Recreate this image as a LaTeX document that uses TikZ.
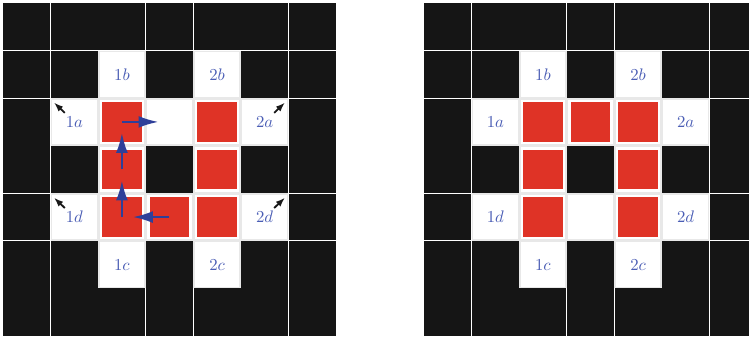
\documentclass[tikz,border=0pt]{standalone}
\usetikzlibrary{arrows.meta}
\definecolor{blk}{HTML}{151515}
\definecolor{cellgray}{HTML}{E8E8E8}
\definecolor{cellred}{HTML}{DF3326}
\definecolor{lblblue}{HTML}{4A5DB5}
\definecolor{arrblue}{HTML}{2E3F99}
\begin{document}
\begin{tikzpicture}[x=1cm,y=-1cm,
  wcell/.style={rectangle, fill=white, draw=cellgray, line width=0.9pt, minimum size=1cm-0.9pt, inner sep=0pt},
  rcell/.style={rectangle, fill=cellred, minimum size=0.83cm, inner sep=0pt},
  lbl/.style={text=lblblue, font=\normalsize},
  barrow/.style={draw=arrblue, line width=1.4pt, -{Latex[length=0.42cm,width=0.25cm]}, shorten >=0.23cm},
  karrow/.style={draw=black!90, line width=1.1pt, -{Latex[length=0.2cm,width=0.14cm]}},
  gline/.style={white, line width=0.7pt}]
\useasboundingbox (-0.063,-0.063) rectangle (15.682,7.042);
\fill[white] (-0.063,-0.063) rectangle (15.682,7.042);
\clip (-0.063,-0.063) rectangle (15.682,7.042);
\foreach \gr/\ox in {L/0, R/8.85} {
  \begin{scope}[xshift=\ox cm]
    \fill[blk] (0,0) rectangle (7,7);
    \foreach \v in {1,3,4,6} {\draw[gline] (\v,0) -- (\v,7);}
    \foreach \h in {1,2,4,5} {\draw[gline] (0,\h) -- (7,\h);}
    % labelled white cells
    \node[wcell, lbl] (\gr21) at (2.5,1.5) {$1b$};
    \node[wcell, lbl] (\gr41) at (4.5,1.5) {$2b$};
    \node[wcell, lbl] (\gr12) at (1.5,2.5) {$1a$};
    \node[wcell, lbl] (\gr52) at (5.5,2.5) {$2a$};
    \node[wcell, lbl] (\gr14) at (1.5,4.5) {$1d$};
    \node[wcell, lbl] (\gr54) at (5.5,4.5) {$2d$};
    \node[wcell, lbl] (\gr25) at (2.5,5.5) {$1c$};
    \node[wcell, lbl] (\gr45) at (4.5,5.5) {$2c$};
    % inner ring cells
    \foreach \c/\r in {2/2,3/2,4/2,2/3,4/3,2/4,3/4,4/4} {
      \node[wcell] (\gr\c\r) at (\c+0.5,\r+0.5) {};
    }
  \end{scope}
}
% red squares, left grid
\foreach \c/\r in {2/2,2/3,2/4,3/4,4/2,4/3,4/4} {
  \node[rcell] (Lred\c\r) at (L\c\r.center) {};
}
% red squares, right grid
\foreach \c/\r in {2/2,3/2,4/2,2/3,4/3,2/4,4/4} {
  \node[rcell] (Rred\c\r) at (R\c\r.center) {};
}
% blue path arrows
\draw[barrow] (L34.center) -- (L24.center);
\draw[barrow] (L24.center) -- (L23.center);
\draw[barrow] (L23.center) -- (L22.center);
\draw[barrow] (L22.center) -- (L32.center);
% small corner arrows
\draw[karrow] ([shift={(0.30,0.31)}]L12.north west) -- ([shift={(0.07,0.09)}]L12.north west);
\draw[karrow] ([shift={(0.30,0.31)}]L14.north west) -- ([shift={(0.07,0.09)}]L14.north west);
\draw[karrow] ([shift={(-0.30,0.31)}]L52.north east) -- ([shift={(-0.07,0.09)}]L52.north east);
\draw[karrow] ([shift={(-0.30,0.31)}]L54.north east) -- ([shift={(-0.07,0.09)}]L54.north east);
\end{tikzpicture}
\end{document}
